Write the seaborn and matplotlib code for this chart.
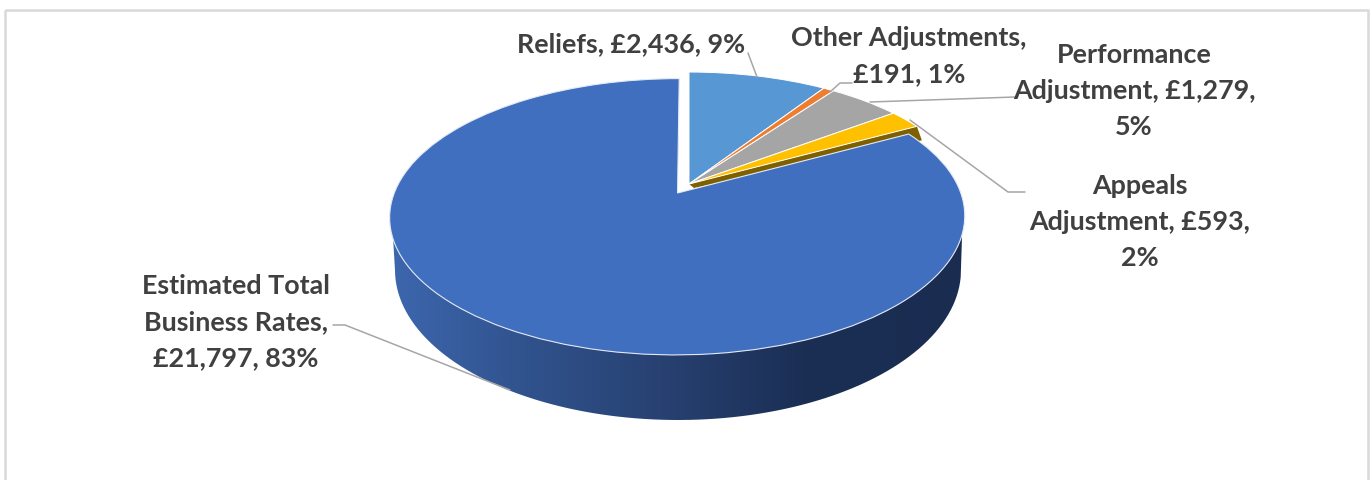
import numpy as np
import matplotlib
matplotlib.use("Agg")
import matplotlib.pyplot as plt
from matplotlib.colors import LinearSegmentedColormap
from matplotlib.patches import PathPatch, Polygon, Rectangle
from matplotlib.path import Path
from matplotlib.transforms import Transform
import seaborn as sns

# Business rates breakdown, clockwise from twelve o'clock
categories = ["Reliefs", "Other Adjustments", "Performance Adjustment",
              "Appeals Adjustment", "Estimated Total Business Rates"]
amounts = [2436, 191, 1279, 593, 21797]
colors = ["#5797D3", "#ED7D31", "#A5A5A5", "#FFC000", "#416FBF"]
explode = [0, 0, 0, 0, 0.079]

# Label text layout: where each name wraps, and how the amount/share wrap after it
label_formats = [
    "Reliefs, {a}, {p}",
    "Other Adjustments,\n{a}, {p}",
    "Performance\nAdjustment, {a},\n{p}",
    "Appeals\nAdjustment, {a},\n{p}",
    "Estimated Total\nBusiness Rates,\n{a}, {p}",
]
label_centres = [(631, 44), (909, 56), (1134, 91), (1140, 222), (236, 322)]
leaders = [
    [(748, 53), (757, 77)],
    [(852, 83), (840, 83), (830, 92)],
    [(1015, 97), (870, 102)],
    [(1025, 192), (1008, 192), (910, 120)],
    [(333, 325), (345, 325), (510, 390)],
]

TEXT_COLOR = "#404040"
LEADER_COLOR = "#A6A6A6"
FRAME_COLOR = "#D9D9D9"


class TiltedPlane(Transform):
    """Projects the flat pie plane onto a tilted disc in pixel-like data units."""
    input_dims = 2
    output_dims = 2
    is_separable = False
    has_inverse = False

    def __init__(self, ox, oy, a, b, k):
        super().__init__()
        self.ox, self.oy, self.a, self.b, self.k = ox, oy, a, b, k

    def transform_non_affine(self, values):
        values = np.asarray(values, dtype=float)
        u, v = values[:, 0], values[:, 1]
        d = 1 + self.k * v
        return np.column_stack([self.ox + self.a * u / d, self.oy - self.b * v / d])


sns.set_theme(style="white")
plt.rcParams["font.family"] = ["Lato", "DejaVu Sans"]

fig = plt.figure(figsize=(13.7, 4.8), dpi=100, facecolor="white")
ax = fig.add_axes([0, 0, 1, 1])

wedges, _ = ax.pie(amounts, colors=sns.color_palette(colors), explode=explode,
                   startangle=90, counterclock=False, radius=1,
                   wedgeprops=dict(linewidth=0.7, edgecolor="white"))
ax.set_aspect("auto")
ax.set_xlim(0, 1370)
ax.set_ylim(480, 0)
ax.set_axis_off()

plane = TiltedPlane(689, 184, 280, 131, 0.17)
for i, w in enumerate(wedges):
    w.set_transform(plane + ax.transData)
    w.set_zorder(5 if i == len(wedges) - 1 else 4)
wedges[-1].set_edgecolor("#E4EAF6")
wedges[-1].set_linewidth(0.8)

# Cut face showing under the last small slice
theta_end = np.deg2rad(wedges[3].theta1)
p0 = plane.transform_non_affine(np.array([[0.0, 0.0]]))[0]
p1 = plane.transform_non_affine(np.array([[np.cos(theta_end), np.sin(theta_end)]]))[0]
ax.add_patch(Polygon([p0, p1, p1 + (5, 14), p0 + (5, 4)], closed=True,
                     facecolor="#7F6000", edgecolor="none", zorder=3))

# Rim of the disc: shaded band clipped to the lower outline
t = np.linspace(0, np.pi, 200)
rim_x = 678 + 283 * np.cos(t)
rim_y = 270 + 150 * np.sin(t)
rim = np.column_stack([np.r_[962, rim_x, 393], np.r_[237, rim_y, 237]])
rim_patch = PathPatch(Path(rim, closed=False), transform=ax.transData,
                      facecolor="none", edgecolor="none")
ax.add_patch(rim_patch)
shade = LinearSegmentedColormap.from_list(
    "rim", [(0.0, "#3D66AD"), (0.24, "#30528C"), (0.50, "#263F6E"),
            (0.72, "#1B2F55"), (1.0, "#1A2C50")])
im = ax.imshow(np.linspace(0, 1, 256)[None, :], cmap=shade, aspect="auto",
               extent=(393, 962, 425, 230), zorder=2, interpolation="bilinear")
im.set_clip_path(rim_patch)
ax.set_xlim(0, 1370)
ax.set_ylim(480, 0)

# Labels built from the amounts
total = sum(amounts)
for fmt, amount, (cx, cy) in zip(label_formats, amounts, label_centres):
    text = fmt.format(a=f"£{amount:,}", p=f"{round(amount / total * 100)}%")
    ax.text(cx, cy, text, ha="center", va="center", color=TEXT_COLOR, fontsize=19.4,
            fontweight="bold", linespacing=1.6, zorder=8)

for pts in leaders:
    xs, ys = zip(*pts)
    ax.plot(xs, ys, color=LEADER_COLOR, lw=1.1, zorder=7, solid_capstyle="round")

# Outer chart frame, running off the bottom of the canvas
ax.add_patch(Rectangle((5, 10), 1363, 480, facecolor="none", edgecolor=FRAME_COLOR,
                       linewidth=1.8, zorder=1))

fig.savefig("out.png", dpi=100, facecolor="white")
